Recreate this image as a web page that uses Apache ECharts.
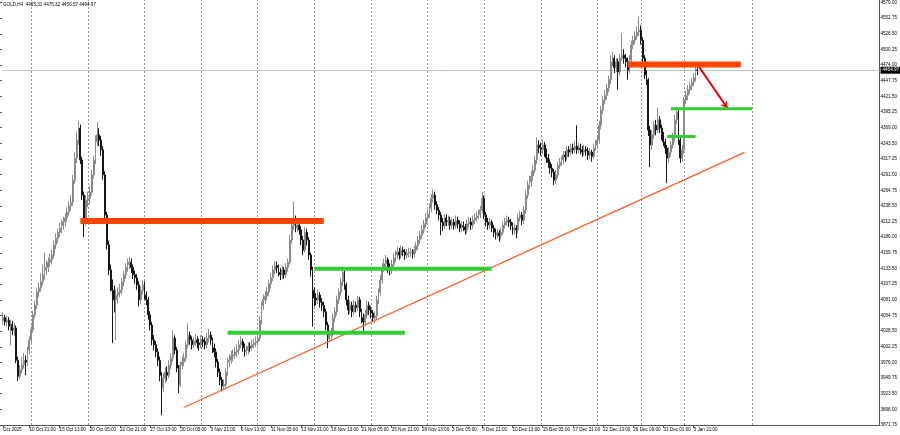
<!DOCTYPE html>
<html><head><meta charset="utf-8">
<script src="https://cdn.jsdelivr.net/npm/echarts@6/dist/echarts.min.js"></script>
<style>html,body{margin:0;padding:0;background:#fff;overflow:hidden}#c{width:900px;height:435px}</style>
</head><body><div id="c"></div><script>
// ---- data (GOLD, H4) ----
const firstOpen = 4046;
const closes = [
4051,4044,4047,4037,4040,4030,4034,3980,3953,3964,
3972,3980,3977,3997,4014,4031,4056,4072,4094,4101,
4111,4123,4131,4135,4144,4148,4156,4173,4184,4194,
4201,4205,4211,4218,4228,4238,4244,4281,4318,4348,
4368,4315,4256,4214,4248,4251,4261,4290,4315,4345,
4357,4348,4332,4290,4223,4173,4131,4106,4097,4081,
4089,4093,4097,4111,4123,4135,4140,4144,4135,4123,
4118,4106,4081,4097,4106,4089,4081,4056,4039,4014,
4006,3994,3980,3955,3934,3950,3960,3955,3972,3984,
4017,3997,3967,3939,3972,3977,3984,4006,4022,4014,
4006,4011,4014,4009,4006,4014,4011,4006,4017,4022,
4014,4001,3994,3977,3960,3947,3937,3940,3960,3977,
3980,3987,3989,3994,3997,4006,4011,4001,3994,3997,
4003,4001,4006,4009,4011,4017,4047,4071,4081,4087,
4094,4108,4118,4131,4138,4135,4127,4123,4131,4123,
4135,4144,4181,4206,4211,4201,4206,4198,4181,4164,
4194,4181,4156,4131,4097,4084,4081,4089,4077,4072,
4061,4039,4017,4022,4026,4051,4061,4081,4094,4111,
4127,4106,4081,4064,4072,4061,4072,4068,4081,4061,
4051,4044,4056,4072,4064,4059,4051,4054,4081,4094,
4114,4135,4141,4148,4135,4131,4140,4151,4156,4161,
4156,4164,4161,4156,4159,4160,4161,4157,4164,4171,
4181,4189,4198,4208,4218,4224,4234,4251,4256,4240,
4231,4223,4211,4205,4218,4211,4214,4206,4211,4205,
4214,4208,4201,4205,4203,4198,4208,4211,4206,4214,
4218,4221,4224,4231,4251,4223,4211,4206,4211,4201,
4194,4189,4193,4188,4194,4206,4211,4214,4211,4205,
4198,4201,4198,4218,4223,4214,4231,4256,4273,4278,
4288,4298,4315,4340,4335,4332,4340,4328,4318,4311,
4301,4295,4281,4290,4306,4311,4315,4323,4320,4332,
4328,4335,4332,4338,4332,4335,4332,4328,4332,4330,
4323,4328,4321,4335,4340,4348,4373,4398,4415,4423,
4435,4449,4479,4485,4469,4479,4462,4485,4490,4485,
4479,4465,4482,4507,4515,4522,4529,4532,4515,4485,
4457,4449,4365,4340,4357,4373,4365,4382,4368,4357,
4345,4335,4318,4328,4340,4352,4382,4395,4348,4318,
4332,4415,4423,4432,4439,4445,4452,4465.31,4464.97
];
const highs = [
4060,4056,4054,4052,4048,4046,4042,4038,3986,3972,
3985,3992,3988,4003,4020,4038,4062,4080,4100,4110,
4125,4140,4160,4146,4152,4158,4165,4180,4192,4200,
4210,4215,4220,4226,4236,4246,4256,4290,4328,4362,
4380,4374,4320,4262,4256,4262,4272,4298,4322,4356,
4378,4368,4355,4338,4296,4228,4180,4140,4115,4105,
4098,4102,4108,4118,4130,4142,4150,4153,4150,4140,
4130,4124,4112,4104,4114,4112,4095,4086,4062,4044,
4022,4012,4000,3986,3960,3958,3968,3970,3980,3992,
4030,4022,4002,3972,3978,3986,3992,4012,4042,4028,
4020,4018,4024,4020,4016,4022,4020,4018,4026,4032,
4028,4018,4008,4000,3982,3966,3952,3948,3966,3984,
3990,3996,3998,4002,4006,4014,4020,4016,4008,4004,
4010,4010,4014,4016,4020,4026,4054,4078,4090,4096,
4102,4115,4126,4138,4146,4145,4140,4134,4138,4136,
4142,4150,4190,4215,4245,4222,4218,4212,4204,4188,
4202,4200,4186,4160,4136,4102,4092,4098,4094,4084,
4078,4066,4044,4030,4034,4058,4068,4088,4100,4118,
4134,4130,4110,4088,4080,4078,4080,4078,4088,4086,
4066,4058,4064,4080,4078,4070,4064,4062,4088,4100,
4122,4142,4150,4156,4152,4142,4148,4158,4164,4170,
4168,4172,4170,4166,4166,4168,4168,4166,4172,4178,
4188,4196,4206,4215,4226,4232,4242,4258,4265,4262,
4246,4236,4228,4218,4224,4224,4222,4220,4218,4216,
4222,4220,4214,4212,4212,4208,4215,4220,4218,4222,
4226,4228,4232,4238,4261,4255,4228,4218,4218,4215,
4206,4200,4200,4198,4202,4212,4218,4222,4220,4216,
4210,4208,4206,4225,4230,4228,4238,4264,4280,4288,
4296,4306,4322,4353,4348,4344,4348,4345,4334,4325,
4316,4308,4300,4298,4312,4318,4322,4330,4330,4338,
4338,4342,4342,4346,4373,4344,4342,4338,4340,4338,
4336,4335,4332,4342,4348,4356,4380,4405,4422,4432,
4442,4456,4490,4495,4490,4486,4484,4492,4527,4500,
4492,4486,4490,4514,4522,4530,4538,4554,4540,4520,
4490,4465,4452,4372,4365,4380,4382,4403,4388,4374,
4362,4350,4340,4336,4346,4360,4390,4402,4398,4352,
4340,4420,4430,4440,4446,4452,4460,4472,4475.32
];
const lows = [
4040,4038,4036,4030,4005,4022,4020,3975,3945,3948,
3958,3966,3955,3970,3990,4008,4026,4050,4066,4086,
4095,4105,4115,4122,4128,4136,4140,4150,4166,4176,
4186,4192,4198,4203,4212,4222,4230,4238,4275,4310,
4340,4308,4248,4186,4205,4236,4240,4255,4284,4308,
4338,4338,4322,4282,4215,4165,4122,4095,4009,4060,
4014,4075,4085,4090,4104,4116,4128,4132,4126,4116,
4108,4098,4070,4074,4090,4082,4072,4048,4030,4005,
3996,3985,3970,3945,3888,3928,3942,3946,3950,3965,
3978,3990,3960,3925,3935,3965,3970,3978,4000,4006,
3998,4000,4004,4000,3996,4000,4002,3998,4000,4010,
4006,3992,3985,3968,3952,3938,3928,3930,3934,3954,
3968,3974,3978,3982,3986,3990,4000,3994,3986,3988,
3990,3994,3996,4000,4002,4004,4012,4040,4064,4074,
4080,4088,4100,4112,4124,4126,4120,4114,4116,4116,
4118,4128,4140,4175,4198,4194,4195,4190,4172,4156,
4160,4172,4148,4120,4036,4070,4072,4074,4068,4062,
4052,4030,4000,4010,4014,4020,4044,4055,4074,4088,
4104,4098,4072,4056,4058,4052,4055,4060,4062,4052,
4042,4026,4038,4050,4056,4050,4044,4042,4048,4074,
4088,4108,4128,4134,4126,4122,4124,4134,4144,4150,
4148,4150,4154,4148,4150,4152,4153,4150,4152,4158,
4165,4175,4183,4192,4202,4212,4218,4228,4244,4232,
4224,4214,4189,4196,4200,4204,4205,4198,4200,4198,
4200,4200,4194,4195,4196,4190,4192,4202,4198,4200,
4208,4212,4215,4218,4226,4216,4204,4198,4200,4194,
4186,4182,4184,4178,4182,4190,4200,4205,4203,4198,
4190,4190,4184,4192,4212,4206,4208,4225,4250,4266,
4270,4280,4292,4308,4326,4322,4325,4320,4310,4302,
4292,4286,4273,4275,4284,4300,4305,4308,4312,4314,
4320,4322,4325,4326,4325,4326,4324,4320,4322,4322,
4315,4316,4312,4316,4330,4334,4342,4366,4392,4408,
4416,4428,4442,4472,4460,4462,4432,4456,4480,4476,
4470,4449,4460,4478,4500,4508,4516,4522,4508,4478,
4450,4440,4355,4303,4332,4350,4356,4360,4360,4348,
4338,4325,4276,4310,4320,4334,4346,4375,4340,4310,
4312,4325,4408,4415,4425,4432,4438,4446,4456.57
];
const lastPrice = 4464.97;
const titleText = 'GOLD,H4  4465.31 4475.32 4456.57 4464.97';

// price scale tick labels (bottom to top)
const priceLabels = ['3871.75','3898.00','3923.50','3949.75','3976.00','4002.25','4028.50','4054.75','4081.00','4107.25','4133.50','4159.75','4186.00','4212.25','4238.50','4264.75','4291.00','4317.25','4343.50','4369.00','4395.25','4421.50','4447.75','4474.00','4500.25','4526.50','4552.75','4579.00'];
// time axis labels: bar index and text
const timeLabelIdx = [0,14,30,46,62,78,94,110,126,142,158,174,190,206,222,238,254,270,286,302,318,334,350,366];
const timeLabelText = ['Oct 2025','10 Oct 21:00','15 Oct 13:00','20 Oct 05:00','22 Oct 21:00','27 Oct 13:00','30 Oct 05:00','3 Nov 21:00','6 Nov 13:00','11 Nov 05:00','13 Nov 21:00','18 Nov 13:00','21 Nov 05:00','25 Nov 21:00','28 Nov 13:00','3 Dec 05:00','5 Dec 21:00','10 Dec 13:00','15 Dec 05:00','17 Dec 21:00','22 Dec 13:00','26 Dec 09:00','31 Dec 01:00','5 Jan 21:00'];
// weekly separators (bar index)
const weekLineIdx = [15,45,75,105,135,165,195,225,255,285,315,338,361,397];
const totalSlots = 465; // bars + empty chart-shift space

// drawn objects: [barIndex, price]
const resistLow = [[41,4213],[170,4213]];
const resistHigh = [[331,4474.5],[391,4474.5]];
const supportA = [[119,4026],[213,4026]];
const supportB = [[165,4133],[259,4133]];
const supportC = [[354,4400.5],[397,4400.5]];
const supportD = [[352,4354],[367,4354]];
const trendLine = [[96,3901.4],[393,4327.7]];
const arrowLine = [[369,4470],[384,4401]];

// ---- build ----
const cats = [];
for (let i = 0; i < totalSlots; i++) cats.push('b' + i);
const ohlc = closes.map((c, i) => {
  const o = i === 0 ? firstOpen : closes[i - 1];
  return [o, c, Math.min(lows[i], o, c), Math.max(highs[i], o, c)];
});
const labelMap = new Map(timeLabelIdx.map((k, j) => [k, timeLabelText[j]]));
const showLabel = (i) => labelMap.has(i);

const FONT = 'Liberation Sans';
const GRID_L = -1.4, GRID_R = 20.5;

function seg(data, color, width, z) {
  return { type: 'line', xAxisIndex: 0, yAxisIndex: 0, data: data, symbol: 'none', silent: true,
    z: z || 5, lineStyle: { color: color, width: width, cap: 'butt' }, animation: false };
}

const chart = echarts.init(document.getElementById('c'), null, { renderer: 'canvas' });
chart.setOption({
  animation: false,
  backgroundColor: '#ffffff',
  textStyle: { fontFamily: FONT },
  title: { text: titleText, left: 3, top: 2, padding: 0,
    textStyle: { fontSize: 4.6, fontWeight: 'normal', color: '#000', fontFamily: FONT } },
  grid: [
    { left: GRID_L, right: GRID_R, top: 0, bottom: 10 },
    { left: GRID_L, right: GRID_R, top: 2, bottom: 10 }
  ],
  xAxis: [
    { type: 'category', gridIndex: 0, data: cats, boundaryGap: true,
      axisLine: { show: true, lineStyle: { color: '#555', width: 1 } },
      axisTick: { show: true, interval: showLabel, alignWithLabel: true, length: 3, lineStyle: { color: '#555' } },
      axisLabel: { show: true, interval: showLabel, formatter: (v, i) => labelMap.get(i) || '',
        align: 'left', margin: 2.5, fontSize: 4.6, color: '#000', fontFamily: FONT },
      splitLine: { show: false } },
    { type: 'value', gridIndex: 1, show: false, min: 0, max: 1 }
  ],
  yAxis: [
    { type: 'value', gridIndex: 0, position: 'right', min: 3871.75, max: 4582.34, scale: true,
      axisLine: { show: true, lineStyle: { color: '#555', width: 1 } },
      axisTick: { show: false }, axisLabel: { show: false }, splitLine: { show: false } },
    { type: 'category', gridIndex: 1, position: 'right', boundaryGap: false, data: priceLabels,
      axisLine: { show: false },
      axisTick: { show: true, length: 2, lineStyle: { color: '#555' } },
      axisLabel: { show: true, interval: 0, margin: 3, fontSize: 4.6, color: '#000', fontFamily: FONT },
      splitLine: { show: false } }
  ],
  series: [
    { type: 'candlestick', xAxisIndex: 0, yAxisIndex: 0, data: ohlc, barWidth: 1.4, z: 3,
      itemStyle: { color: '#a6a6a6', color0: '#161616', borderColor: '#8a8a8a', borderColor0: '#161616', borderWidth: 1 },
      markLine: { silent: true, symbol: 'none', animation: false, z: 1,
        data: weekLineIdx.map(k => ({ xAxis: k, lineStyle: { color: '#9a9a9a', width: 1, type: [2, 2] }, label: { show: false } }))
          .concat([{ yAxis: lastPrice, lineStyle: { color: '#c4c4c4', width: 1, type: 'solid' },
            label: { show: true, position: 'end', distance: 1, formatter: lastPrice.toFixed(2), backgroundColor: '#000',
              color: '#fff', fontSize: 4.6, padding: [1, 2, 1, 2], fontFamily: FONT } }]) } },
    seg(resistLow, '#FF4500', 6),
    seg(resistHigh, '#FF4500', 6),
    seg(supportA, '#32CD32', 4),
    seg(supportB, '#32CD32', 4),
    seg(supportC, '#32CD32', 3),
    seg(supportD, '#32CD32', 3),
    seg(trendLine, '#FF5A22', 1.3, 4),
    { type: 'line', xAxisIndex: 0, yAxisIndex: 0, data: [], silent: true, z: 6,
      markLine: { silent: true, animation: false, symbol: ['none', 'arrow'], symbolSize: [6, 7],
        lineStyle: { color: '#E8000B', width: 2, type: 'solid' }, label: { show: false },
        data: [[{ coord: arrowLine[0] }, { coord: arrowLine[1] }]] } }
  ]
});
</script></body></html>
